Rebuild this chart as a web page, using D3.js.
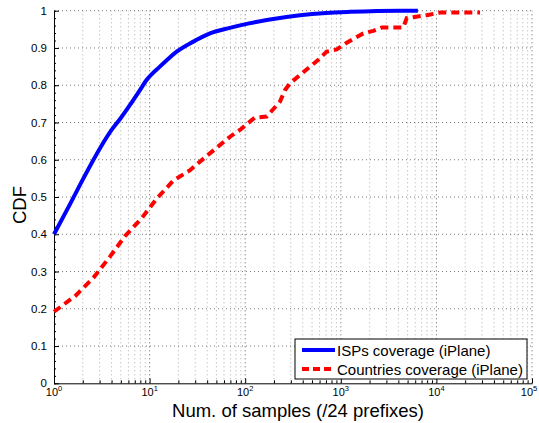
<!DOCTYPE html>
<html><head><meta charset="utf-8">
<script src="https://cdn.jsdelivr.net/npm/d3@7"></script>
<style>body{margin:0;background:#fff}svg{display:block;font-family:"Liberation Sans",Arial,sans-serif}</style>
</head><body><svg id="c" width="539" height="423"></svg>
<script>
const ispX = [1, 1.5, 2.03, 3.03, 4.0, 5.0, 6.24, 7.7, 9.3, 12.8, 15.5, 19.2, 28.7, 42.8, 69, 110, 168, 374, 700, 1248, 4164, 6400];
const ispY = [0.40, 0.485, 0.55, 0.631, 0.680, 0.712, 0.747, 0.782, 0.814, 0.850, 0.870, 0.890, 0.917, 0.939, 0.954, 0.966, 0.975, 0.988, 0.994, 0.997, 1.0, 1.0];
const ctyX = [1, 1.66, 2.58, 3.85, 5.53, 8.26, 11.9, 17.7, 26.5, 39.5, 72, 88, 126, 168, 231, 261, 294, 405, 582, 711, 906, 1153, 1718, 2188, 2690, 4508, 4890, 6170, 7940, 10960, 15090, 28600];
const ctyY = [0.192, 0.234, 0.283, 0.340, 0.395, 0.443, 0.496, 0.544, 0.572, 0.610, 0.665, 0.680, 0.713, 0.716, 0.756, 0.787, 0.805, 0.835, 0.868, 0.890, 0.896, 0.914, 0.939, 0.946, 0.955, 0.955, 0.980, 0.984, 0.988, 0.995, 0.995, 0.995];
const xTicks = [1, 10, 100, 1000, 10000, 100000];
const xTickExp = ["0", "1", "2", "3", "4", "5"];
const yTicks = [0, 0.1, 0.2, 0.3, 0.4, 0.5, 0.6, 0.7, 0.8, 0.9, 1];
const seriesNames = ["ISPs coverage (iPlane)", "Countries coverage (iPlane)"];
const xLabel = "Num. of samples (/24 prefixes)";
const yLabel = "CDF";

const svg = d3.select("#c");
const L = 54, R = 532, T = 10.7, B = 383.3;
const x = d3.scaleLog().domain([1, 1e5]).range([L, R]);
const y = d3.scaleLinear().domain([0, 1]).range([B, T]);

const minors = [];
for (let e = 0; e < 5; e++) for (let k = 2; k <= 9; k++) minors.push(k * Math.pow(10, e));

const g = svg.append("g");
g.selectAll(".gm").data(minors).join("line")
  .attr("x1", d => x(d)).attr("x2", d => x(d)).attr("y1", B).attr("y2", T)
  .attr("stroke", "#888").attr("stroke-width", 0.7).attr("stroke-dasharray", "1,3");
g.selectAll(".gx").data(xTicks.slice(1)).join("line")
  .attr("x1", d => x(d)).attr("x2", d => x(d)).attr("y1", B).attr("y2", T)
  .attr("stroke", "#333").attr("stroke-width", 0.8).attr("stroke-dasharray", "1,3");
g.selectAll(".gy").data(yTicks.slice(1)).join("line")
  .attr("x1", L).attr("x2", R).attr("y1", d => y(d)).attr("y2", d => y(d))
  .attr("stroke", "#555").attr("stroke-width", 0.8).attr("stroke-dasharray", "1,3");

const xAxis = d3.axisBottom(x).tickValues(xTicks).tickSizeInner(-5).tickSizeOuter(0).tickFormat("");
const xa = svg.append("g").attr("transform", `translate(0,${B})`).call(xAxis);
xa.select(".domain").attr("stroke", "#000");
const xm = d3.axisBottom(x).tickValues(minors).tickSizeInner(-3).tickSizeOuter(0).tickFormat("");
svg.append("g").attr("transform", `translate(0,${B})`).call(xm).select(".domain").remove();

const yAxis = d3.axisLeft(y).tickValues(yTicks).tickSizeInner(-5).tickSizeOuter(0).tickFormat(d3.format("~g"));
const ya = svg.append("g").attr("transform", `translate(${L},0)`).call(yAxis);
ya.selectAll("text").attr("x", -7).attr("font-size", 11.5).attr("fill", "#000").attr("font-family", "Liberation Sans, Arial, sans-serif");
ya.select(".domain").attr("stroke", "#000");
const ym = d3.axisLeft(y).tickValues(d3.range(0, 1.001, 0.02)).tickSizeInner(-2).tickSizeOuter(0).tickFormat("");
svg.append("g").attr("transform", `translate(${L},0)`).call(ym).select(".domain").remove();

const xl = svg.append("g");
xTicks.forEach((t, i) => {
  const last = i === xTicks.length - 1;
  const tx = xl.append("text").attr("x", x(t) + (last ? -3 : 0)).attr("y", B + 13).attr("text-anchor", "middle")
    .attr("font-size", 11).attr("fill", "#000");
  tx.append("tspan").text("10");
  tx.append("tspan").text(xTickExp[i]).attr("font-size", 7.5).attr("dy", -5);
});

svg.append("text").attr("x", (L + R) / 2 + 5).attr("y", 417).attr("text-anchor", "middle")
  .attr("font-size", 18.5).text(xLabel);
svg.append("text").attr("transform", `translate(26,${(T + B) / 2 + 8}) rotate(-90)`).attr("text-anchor", "middle")
  .attr("font-size", 18.5).text(yLabel);

const line = d3.line().x(d => x(d[0])).y(d => y(d[1])).curve(d3.curveMonotoneX);
svg.append("path").datum(ctyX.map((v, i) => [v, ctyY[i]])).attr("d", d3.line().x(d => x(d[0])).y(d => y(d[1])))
  .attr("fill", "none").attr("stroke", "#ff0000").attr("stroke-width", 4).attr("stroke-dasharray", "8,5");
svg.append("path").datum(ispX.map((v, i) => [v, ispY[i]])).attr("d", line)
  .attr("fill", "none").attr("stroke", "#0000ff").attr("stroke-width", 4);

const lg = svg.append("g");
lg.append("rect").attr("x", 295).attr("y", 339).attr("width", 232).attr("height", 40)
  .attr("fill", "#fff").attr("stroke", "#000").attr("stroke-width", 1);
const colors = ["#0000ff", "#ff0000"];
seriesNames.forEach((n, i) => {
  const yy = 350 + i * 19;
  lg.append("line").attr("x1", 302).attr("x2", 335).attr("y1", yy).attr("y2", yy)
    .attr("stroke", colors[i]).attr("stroke-width", 4).attr("stroke-dasharray", i ? "7,4" : null);
  lg.append("text").attr("x", 337).attr("y", yy + 5.5).attr("font-size", 15).text(n);
});
</script></body></html>
